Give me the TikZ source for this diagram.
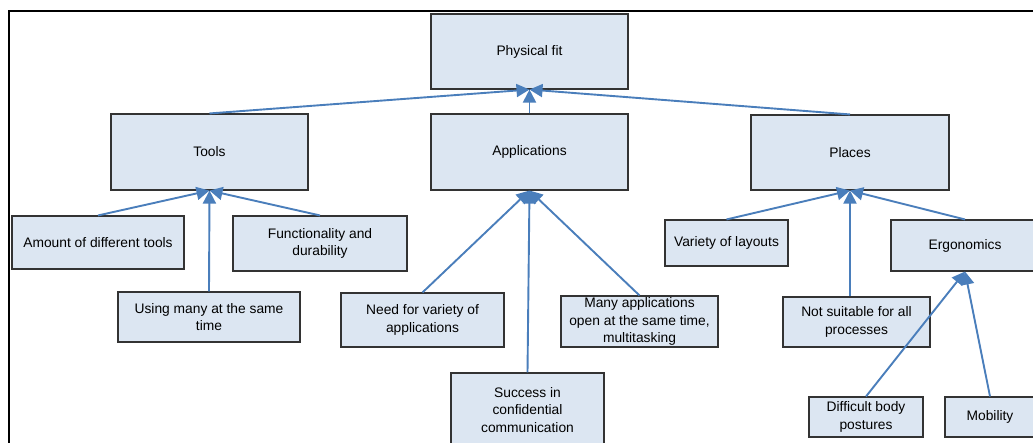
\documentclass[tikz,border=0pt]{standalone}
\usepackage{fontspec}
\setmainfont{Liberation Sans}
\usetikzlibrary{arrows.meta}
\definecolor{boxfill}{RGB}{220,230,242}
\definecolor{linkblue}{RGB}{74,126,187}
\begin{document}
\begin{tikzpicture}[x=1pt,y=-1pt,
  box/.style={draw=black!80, line width=1.1pt, fill=boxfill, inner sep=0pt,
    align=center, font=\fontsize{13.8}{17.5}\selectfont},
  link/.style={draw=linkblue, line width=1.9pt,
    -{Triangle[length=13pt,width=13pt]}}]
\useasboundingbox (0,0) rectangle (1033,442);
\clip (0,0) rectangle (1033,442);
% outer frame
\draw[line width=2pt] (9,10.5) rectangle (1050,470);
% boxes
\node[box, minimum width=197pt, minimum height=75pt] (phys) at (529.5,51.5) {Physical fit};
\node[box, minimum width=197pt, minimum height=76pt] (tools) at (209.5,152) {Tools};
\node[box, minimum width=197pt, minimum height=76pt] (apps) at (529.5,152) {Applications};
\node[box, minimum width=198pt, minimum height=75pt] (places) at (850,152.5) {Places};
\node[box, minimum width=172pt, minimum height=53pt] (amount) at (98,242.5) {Amount of different tools};
\node[box, minimum width=174pt, minimum height=55pt] (func) at (320,243.5) {Functionality and\\durability};
\node[box, minimum width=182pt, minimum height=50pt] (using) at (209,317) {Using many at the same\\time};
\node[box, minimum width=163pt, minimum height=54pt] (need) at (422.5,320) {Need for variety of\\applications};
\node[box, minimum width=157pt, minimum height=51pt] (many) at (639.5,321.5) {Many applications\\open at the same time,\\multitasking};
\node[box, minimum width=153pt, minimum height=74pt] (success) at (527.5,410) {Success in\\confidential\\communication};
\node[box, minimum width=123pt, minimum height=46pt] (variety) at (726.5,243) {Variety of layouts};
\node[box, minimum width=148pt, minimum height=51pt] (ergo) at (965,245.5) {Ergonomics};
\node[box, minimum width=147pt, minimum height=50pt] (nsuit) at (856.5,322) {Not suitable for all\\processes};
\node[box, minimum width=114pt, minimum height=40pt] (diff) at (866,417) {Difficult body\\postures};
\node[box, minimum width=90pt, minimum height=40pt] (mob) at (990,417) {Mobility};
% connectors
\draw[link] (tools.north) -- (phys.south);
\draw[link] (apps.north) -- (phys.south);
\draw[link] (places.north) -- (phys.south);
\draw[link] (amount.north) -- (tools.south);
\draw[link] (using.north) -- (tools.south);
\draw[link] (func.north) -- (tools.south);
\draw[link] (need.north) -- (apps.south);
\draw[link] (success.north) -- (apps.south);
\draw[link] (many.north) -- (apps.south);
\draw[link] (variety.north) -- (places.south);
\draw[link] (places.south |- nsuit.north) -- (places.south);
\draw[link] (ergo.north) -- (places.south);
\draw[link] (diff.north) -- (ergo.south);
\draw[link] (mob.north) -- (ergo.south);
\end{tikzpicture}
\end{document}
